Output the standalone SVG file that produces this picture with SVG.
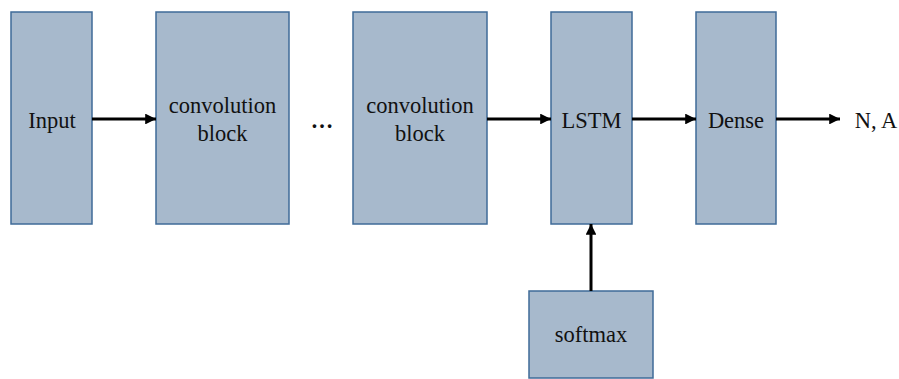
<svg xmlns="http://www.w3.org/2000/svg" width="899" height="379" viewBox="0 0 899 379">
<defs>
<style>
.box{fill:#a7b9cc;stroke:#3f6b98;stroke-width:1.5}
.lbl{font-family:"Liberation Serif","Times New Roman",serif;font-size:22.5px;fill:#111;text-anchor:middle}
.edge{stroke:#000;stroke-width:3;fill:none}
</style>
<marker id="ah" viewBox="0 0 10 10" refX="10" refY="5" markerWidth="3.6" markerHeight="3.6" markerUnits="strokeWidth" orient="auto">
<path d="M0,0 L10,5 L0,10 z" fill="#000"/>
</marker>
</defs>
<rect width="899" height="379" fill="#fff"/>
<g id="input"><rect class="box" x="11" y="12" width="81" height="212"/><text class="lbl" x="52" y="128">Input</text></g>
<g id="conv1"><rect class="box" x="156" y="12" width="133" height="212"/><text class="lbl" x="222.5" y="113">convolution</text><text class="lbl" x="222.5" y="141">block</text></g>
<g id="dots"><text class="lbl" x="322" y="128" font-weight="bold">…</text></g>
<g id="conv2"><rect class="box" x="353" y="12" width="134" height="212"/><text class="lbl" x="420" y="113">convolution</text><text class="lbl" x="420" y="141">block</text></g>
<g id="lstm"><rect class="box" x="551" y="12" width="81" height="212"/><text class="lbl" x="591.5" y="128">LSTM</text></g>
<g id="dense"><rect class="box" x="696" y="12" width="80" height="212"/><text class="lbl" x="736" y="128">Dense</text></g>
<g id="softmax"><rect class="box" x="529" y="291" width="124" height="87"/><text class="lbl" x="591" y="342">softmax</text></g>
<g id="out"><text class="lbl" x="876" y="128">N, A</text></g>
<g id="connectors">
<line class="edge" x1="92" y1="119" x2="156" y2="119" marker-end="url(#ah)"/>
<line class="edge" x1="487" y1="119" x2="551" y2="119" marker-end="url(#ah)"/>
<line class="edge" x1="632" y1="119" x2="696" y2="119" marker-end="url(#ah)"/>
<line class="edge" x1="776" y1="119" x2="840" y2="119" marker-end="url(#ah)"/>
<line class="edge" x1="591" y1="291" x2="591" y2="224" marker-end="url(#ah)"/>
</g>
</svg>
